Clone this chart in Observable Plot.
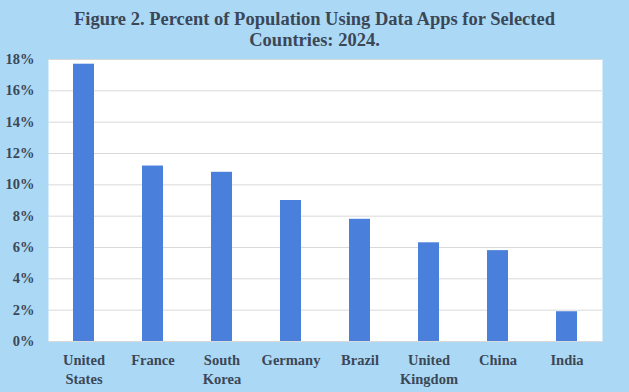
<!DOCTYPE html>
<html>
<head>
<meta charset="utf-8">
<script src="https://cdn.jsdelivr.net/npm/d3@7"></script>
<script src="https://cdn.jsdelivr.net/npm/@observablehq/plot@0.6"></script>
<style>
  html, body { margin: 0; padding: 0; background: #abd9f5; }
  #wrap { width: 629px; height: 392px; overflow: hidden; background: #abd9f5; }
  #title { height: 52px; box-sizing: border-box; padding-top: 9px; text-align: center;
    font-family: "Liberation Serif", "Times New Roman", serif; font-weight: bold;
    font-size: 18.5px; line-height: 21px; color: #3b4757; }
  svg { display: block; }
</style>
</head>
<body>
<div id="wrap">
  <div id="title">Figure 2. Percent of Population Using Data Apps for Selected<br>Countries: 2024.</div>
  <div id="chart"></div>
</div>
<script>
const countries = ["United States", "France", "South Korea", "Germany", "Brazil", "United Kingdom", "China", "India"];
const labels = ["United\nStates", "France", "South\nKorea", "Germany", "Brazil", "United\nKingdom", "China", "India"];
const percents = [17.7, 11.2, 10.8, 9.0, 7.8, 6.3, 5.8, 1.9];
const yTicks = [0, 2, 4, 6, 8, 10, 12, 14, 16, 18];

const data = countries.map((c, i) => ({country: c, label: labels[i], value: percents[i]}));
const labelOf = new Map(countries.map((c, i) => [c, labels[i]]));
const font = "'Liberation Serif', 'Times New Roman', serif";
const textColor = "#3b4757";

const chart = Plot.plot({
  width: 629,
  height: 340,
  marginTop: 7,
  marginBottom: 51,
  marginLeft: 48,
  marginRight: 27,
  style: {fontFamily: font, background: "transparent", color: textColor},
  x: {domain: countries, padding: 0.695, paddingOuter: 0.35, label: null},
  y: {domain: [0, 18], label: null},
  marks: [
    Plot.frame({fill: "white", stroke: null}),
    Plot.ruleY(yTicks, {stroke: "#d9d9d9", strokeWidth: 1}),
    Plot.barY(data, {x: "country", y: "value", fill: "#4a7fdc"}),
    Plot.axisY({ticks: yTicks, tickFormat: d => d + "%", tickSize: 0, tickPadding: 14,
      fontSize: 14.5, fontWeight: "bold", fill: textColor, label: null}),
    Plot.axisX({tickFormat: d => labelOf.get(d), tickSize: 0, tickPadding: 10,
      fontSize: 14.5, fontWeight: "bold", fill: textColor, lineHeight: 1.3, label: null})
  ]
});
document.getElementById("chart").appendChild(chart);
</script>
</body>
</html>
